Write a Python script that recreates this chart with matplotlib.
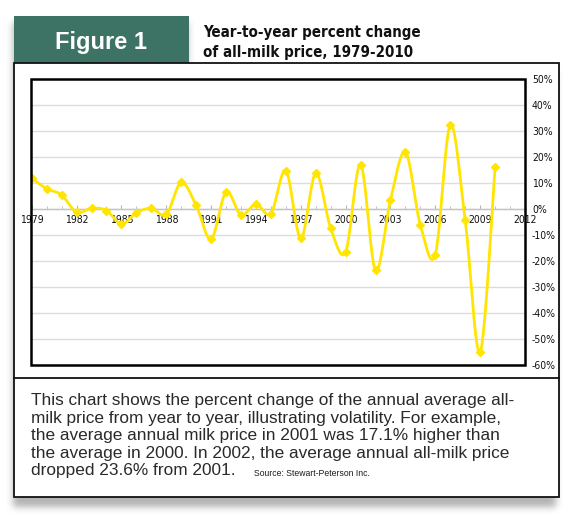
import matplotlib
matplotlib.use("Agg")
import matplotlib.pyplot as plt
import numpy as np
from matplotlib.patches import Rectangle
from matplotlib.font_manager import FontProperties
from matplotlib.ticker import MultipleLocator

# ---------------- data ----------------
years = list(range(1979, 2011))
pct_change = [11.8, 7.8, 5.4, -1.3, 0.3, -0.6, -5.8, -1.5, 0.3, -2.1,
              10.2, 1.4, -11.6, 6.5, -2.3, 1.9, -1.8, 14.8, -11.3, 13.7,
              -7.4, -16.5, 17.1, -23.6, 3.4, 21.9, -6.2, -17.5, 32.3, -4.4,
              -55.0, 16.1]
x_ticks = list(range(1979, 2013, 3))
y_ticks = list(range(-60, 51, 10))
y_labels = [f"{v}%" for v in y_ticks]

figure_label = "Figure 1"
title_lines = ["Year-to-year percent change", "of all-milk price, 1979-2010"]
caption_lines = [
    "This chart shows the percent change of the annual average all-",
    "milk price from year to year, illustrating volatility. For example,",
    "the average annual milk price in 2001 was 17.1% higher than",
    "the average in 2000. In 2002, the average annual all-milk price",
    "dropped 23.6% from 2001.",
]
source_text = "Source: Stewart-Peterson Inc."

YELLOW = "#FFE500"
GREEN = "#3d7365"
COND_FAM = ["Liberation Sans Narrow", "DejaVu Sans"]


def smooth_curve(x, y, n=24):
    """Excel-like smoothed line (cubic Bezier through the points)."""
    P = np.column_stack([x, y]).astype(float)
    E = np.vstack([P[0], P, P[-1]])
    t = np.linspace(0, 1, n)[:, None]
    parts = []
    for i in range(len(P) - 1):
        p0, p1, p2, p3 = E[i], E[i + 1], E[i + 2], E[i + 3]
        c1 = p1 + (p2 - p0) / 6.0
        c2 = p2 - (p3 - p1) / 6.0
        seg = ((1 - t) ** 3) * p1 + 3 * ((1 - t) ** 2) * t * c1 \
            + 3 * (1 - t) * t ** 2 * c2 + t ** 3 * p2
        parts.append(seg if i == 0 else seg[1:])
    S = np.vstack(parts)
    return S[:, 0], S[:, 1]


W, H = 575, 525
fig = plt.figure(figsize=(W / 100, H / 100), dpi=100)
fig.patch.set_facecolor("white")

# background / decoration axes in pixel coordinates
bg = fig.add_axes([0, 0, 1, 1])
bg.axis("off")

# soft drop shadow (mostly below the box)
m = np.zeros((H, W))
m[72:507, 13:556] = 1.0
m[22:72, 13:188] = 1.0
k = np.exp(-0.5 * (np.arange(-12, 13) / 3.5) ** 2)
k /= k.sum()
m = np.apply_along_axis(lambda r: np.convolve(r, k, mode="same"), 1, m)
m = np.apply_along_axis(lambda c: np.convolve(c, k, mode="same"), 0, m)
rgba = np.zeros((H, W, 4))
rgba[..., :3] = 0.4
rgba[..., 3] = m * 0.5
bg.imshow(rgba, extent=(0, W, H, 0), zorder=0, interpolation="bilinear", aspect="auto")
bg.set_xlim(0, W)
bg.set_ylim(H, 0)

bg.add_patch(Rectangle((14, 63), 545, 434, fc="white", ec="none", zorder=1))
bg.add_patch(Rectangle((14, 16), 175, 47, fc=GREEN, ec="none", zorder=2))
bg.add_patch(Rectangle((14, 63), 545, 434, fill=False, ec="#111111", lw=1.3, zorder=3))
bg.plot([14, 559], [378, 378], color="#111111", lw=1.3, zorder=3)

# header texts
fig_txt = bg.text(101, 49, figure_label, ha="center", va="baseline", color="white",
                  fontsize=17, fontweight="bold", family=["Liberation Sans", "DejaVu Sans"], zorder=4)
title_fp = FontProperties(family=COND_FAM, stretch="condensed", weight="bold", size=11.5)
t1 = bg.text(203, 36.7, title_lines[0], ha="left", va="baseline", color="#111111",
             fontproperties=title_fp, zorder=4)
t2 = bg.text(203, 57.3, title_lines[1], ha="left", va="baseline", color="#111111",
             fontproperties=title_fp, zorder=4)

cap_base = [405.0, 422.7, 440.2, 457.7, 475.5]
cap_txts = []
for line, yb in zip(caption_lines, cap_base):
    cap_txts.append(bg.text(31, yb, line, ha="left", va="baseline", color="#2a2a2a",
                            fontsize=11.7, family=["Liberation Sans", "DejaVu Sans"], zorder=4))

# ---------------- chart ----------------
ax = fig.add_axes([31 / W, 1 - 365 / H, (525 - 31) / W, (365 - 79) / H])
ax.set_facecolor("white")
ax.set_xlim(1978.95, 2012)
ax.set_ylim(-60, 50)

ax.yaxis.grid(True, color="#dcdcdc", lw=1.0)
ax.set_axisbelow(True)

for s in ("left", "right", "top"):
    ax.spines[s].set_visible(False)
ax.spines["bottom"].set_position(("data", 0))
ax.spines["bottom"].set_color("#c4c4c4")
ax.spines["bottom"].set_linewidth(1.0)

tick_fp = FontProperties(family=COND_FAM, stretch="condensed", size=7.5)
ax.set_xticks(x_ticks)
ax.set_xticklabels([str(v) for v in x_ticks], fontproperties=tick_fp, color="#111111")
ax.xaxis.set_minor_locator(MultipleLocator(1))
ax.tick_params(axis="x", which="both", direction="in", color="#b5b5b5", pad=4)
ax.tick_params(axis="x", which="major", length=3)
ax.tick_params(axis="x", which="minor", length=2.5)

ax.yaxis.tick_right()
ax.set_yticks(y_ticks)
ax.set_yticklabels(y_labels, fontproperties=tick_fp, color="#111111")
ax.tick_params(axis="y", which="both", length=0, pad=5)

sx, sy = smooth_curve(years, pct_change)
ax.plot(sx, sy, color=YELLOW, lw=2.0, solid_capstyle="round", zorder=3)
ax.plot(years, pct_change, linestyle="none", marker="D", ms=4.0, color=YELLOW, zorder=4)

ax.add_patch(Rectangle((0, 0), 1, 1, transform=ax.transAxes, fill=False,
                       ec="black", lw=1.8, zorder=6, clip_on=False))

# ---- fit text widths to the reference layout ----
fig.canvas.draw()
r = fig.canvas.get_renderer()


def fit(txt, target):
    w = txt.get_window_extent(r).width
    txt.set_fontsize(txt.get_fontsize() * target / w)


fit(fig_txt, 92)
t1_w = t1.get_window_extent(r).width
scale = 218 / t1_w
t1.set_fontsize(t1.get_fontsize() * scale)
t2.set_fontsize(t2.get_fontsize() * scale)
c_w = cap_txts[0].get_window_extent(r).width
cscale = 483 / c_w
for c in cap_txts:
    c.set_fontsize(c.get_fontsize() * cscale)

fig.canvas.draw()
ext = cap_txts[-1].get_window_extent(r)
bg.text(ext.x1 + 18, cap_base[-1], source_text, ha="left", va="baseline", color="#1a1a1a",
        fontsize=6.2, family=["Liberation Sans", "DejaVu Sans"], zorder=4)

fig.savefig("out.png", dpi=100, facecolor="white")
